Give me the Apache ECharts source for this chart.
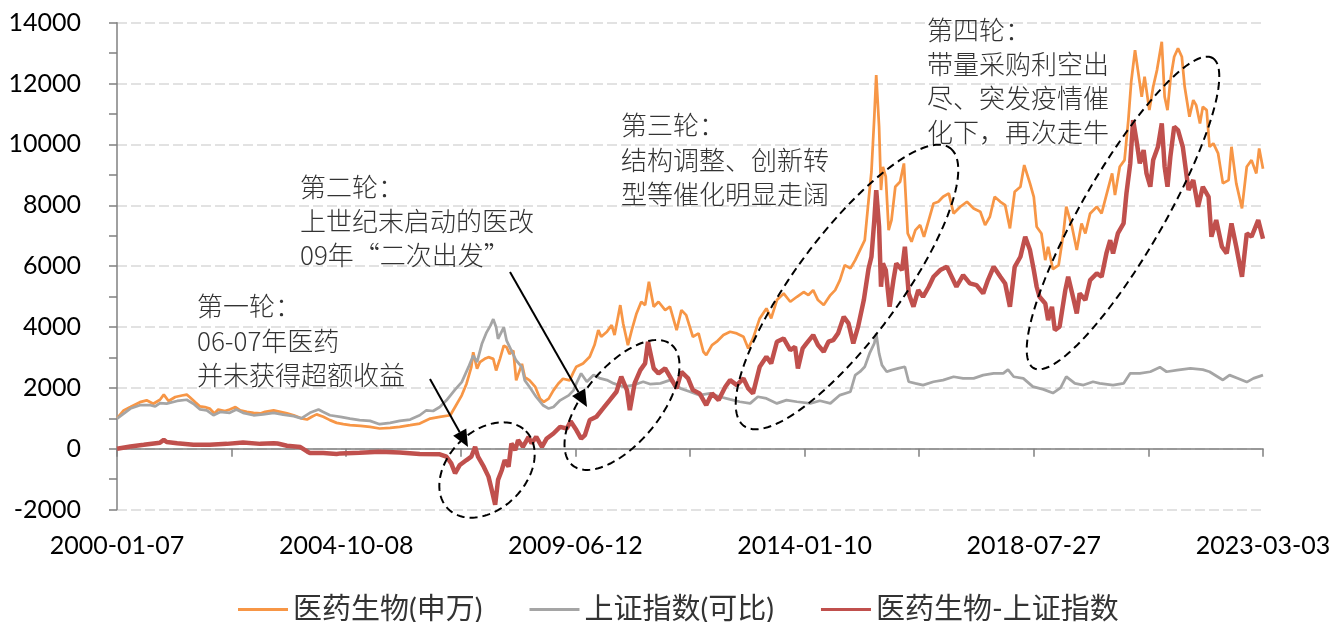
<!DOCTYPE html>
<html><head><meta charset="utf-8">
<script src="https://cdn.jsdelivr.net/npm/echarts@6/dist/echarts.min.js"></script>
<style>html,body{margin:0;padding:0;background:#fff}#c{width:1343px;height:622px}</style>
</head><body><div id="c"></div>
<script>
// x tick labels (every 240 trading weeks)
const xTickLabels = ['2000-01-07','2004-10-08','2009-06-12','2014-01-10','2018-07-27','2023-03-03'];
const seriesNames = ['医药生物(申万)','上证指数(可比)','医药生物-上证指数'];
// data: [trading-week index, value]
const pharma = [[0,1000],[7,1260],[14,1370],[24,1530],[31,1590],[38,1480],[45,1610],[49,1780],[54,1570],[61,1700],[68,1750],[73,1780],[76,1700],[82,1530],[87,1390],[92,1370],[97,1320],[102,1160],[106,1290],[113,1240],[118,1290],[124,1370],[129,1260],[136,1210],[143,1180],[150,1160],[155,1210],[164,1260],[171,1210],[178,1160],[185,1100],[193,1000],[199,960],[204,1050],[209,1130],[216,1050],[223,940],[230,850],[237,810],
[244,774],[255,752],[265,720],[275,665],[286,687],[296,720],[307,774],[317,828],[328,992],[338,1046],[349,1100],[354,1373],[361,1755],[366,2136],[371,2680],[373,3170],[377,2627],[380,2845],[385,2954],[389,3010],[394,2954],[397,2572],[401,2954],[405,3390],[408,3335],[411,3117],[415,3225],[418,2245],[424,2790],[427,2354],[432,2245],[438,2030],[443,1645],[447,1537],[452,1645],[457,1918],[462,2136],[467,2300],[474,2245],[478,2518],
[481,2695],[488,2804],[495,3023],[500,3406],[504,3899],[507,3680],[513,3844],[518,4063],[521,3735],[527,4720],[530,4118],[535,3406],[539,3899],[544,4447],[549,4830],[553,4720],[557,5487],[562,4666],[567,4830],[574,4556],[579,4666],[586,3899],[591,4556],[596,4392],[603,3680],[609,3790],[614,3187],[617,3078],[623,3406],[628,3516],[635,3735],[642,3844],[649,3790],[656,3680],[661,3297],[666,3625],[673,4282],[680,4611],[685,4282],[691,4885],[698,5104],[705,4830],[712,4994],
[719,5150],[724,5050],[729,5213],[734,4885],[740,4721],[747,5049],[752,5213],[757,5542],[762,6035],[768,5925],[773,6199],[778,6528],[783,6857],[787,8171],[790,9102],[793,10909],[795,12278],[798,10580],[800,8500],[802,9266],[805,8938],[808,7185],[811,7514],[815,8609],[820,8773],[824,9376],[828,7075],[832,6802],[836,7185],[841,7350],[845,6966],[850,7514],[855,8061],[860,8116],[865,8280],[871,8390],[876,7733],[883,7952],[890,8116],[897,7897],[904,7788],[909,7350],[914,7623],[919,8280],[925,8116],[930,8006],[935,7240],[940,8445],[946,8609],[950,9321],[956,8719],[960,8280],[963,7295],[968,7075],[972,6199],[975,6637],[980,5900],[986,6035],[991,7075],[994,7952],[1000,7295],[1005,6528],[1010,7404],[1014,7075],[1019,7733],[1026,7952],[1031,7733],[1036,8335],[1042,9047],[1045,8335],[1050,9266],[1055,9485],[1059,10799],[1062,12059],[1066,13100],[1069,12443],[1073,11566],[1076,12224],[1081,11128],[1085,11895],[1089,12443],[1094,13374],[1097,11566],[1100,11128],[1103,12114],[1107,12881],[1111,13155],[1115,12881],[1118,11895],[1123,10909],[1127,11457],[1130,11293],[1134,10690],[1137,11238],[1141,11128],[1144,9923],[1148,10033],[1153,9704],[1158,8719],[1164,8828],[1167,9923],[1172,8719],[1178,7897],[1183,9266],[1188,9485],[1193,9047],[1196,9868],[1200,9200]];
const shIndex = [[0,990],[14,1320],[24,1430],[35,1430],[40,1390],[45,1500],[52,1480],[63,1570],[73,1610],[80,1480],[87,1290],[94,1260],[101,1100],[108,1210],[118,1180],[125,1290],[132,1180],[143,1100],[153,1130],[164,1180],[174,1120],[185,1070],[193,1000],[202,1180],[211,1290],[216,1210],[223,1100],[234,1050],
[244,990],[254,940],[265,915],[275,807],[286,850],[296,915],[307,960],[317,1100],[324,1264],[331,1240],[338,1373],[345,1590],[354,1940],[361,2190],[368,2680],[373,3060],[377,2845],[382,3440],[387,3825],[391,4045],[394,4260],[397,3990],[399,3610],[405,3990],[408,3550],[413,3225],[418,2900],[424,2680],[427,2245],[432,2030],[439,1700],[446,1430],[452,1320],[457,1373],[464,1590],[473,1755],[478,1918],
[481,2147],[486,2475],[492,2202],[499,2420],[506,2311],[513,2256],[520,2147],[530,2037],[541,2092],[551,2202],[558,2125],[569,2147],[579,2256],[590,1982],[600,1873],[610,1763],[621,1818],[631,1709],[642,1621],[652,1544],[663,1490],[671,1709],[680,1654],[691,1490],[701,1599],[712,1544],
[726,1490],[736,1577],[747,1490],[757,1763],[768,1873],[773,2420],[778,2530],[783,2694],[788,3132],[793,3461],[795,3790],[798,3132],[801,2749],[806,2530],[811,2584],[818,2639],[825,2694],[829,2201],[836,2147],[844,2092],[855,2201],[865,2256],[876,2366],[886,2311],[897,2311],[907,2420],[918,2475],[928,2475],[933,2600],[939,2366],[949,2311],[959,2040],[970,1950],[980,1830],[988,2000],[994,2370],[1003,2147],[1012,2092],[1022,2201],[1029,2150],[1043,2092],[1054,2147],[1061,2480],[1071,2475],[1082,2530],[1092,2680],[1099,2530],[1110,2584],[1124,2639],[1137,2600],[1144,2530],[1158,2260],[1165,2420],[1174,2311],[1183,2190],[1190,2311],[1200,2420]];
const excess = [[0,0],[14,75],[28,130],[45,200],[49,290],[52,220],[63,180],[80,130],[97,130],[115,160],[132,205],[150,160],[164,180],[165,240],[168,170],[178,100],[192,55],[199,-90],[202,-140],[216,-140],[230,-170],
[234,-153],[254,-131],[275,-98],[296,-120],[317,-175],[338,-185],[345,-262],[350,-480],[354,-807],[359,-534],[366,-371],[371,-262],[375,65],[378,-262],[384,-589],[389,-916],[392,-1297],[396,-1842],[399,-1025],[403,-698],[406,-371],[410,-589],[413,174],[417,-44],[420,283],[425,65],[431,392],[434,174],[439,392],[445,65],[450,338],[457,501],[464,719],[471,665],[475,900],[481,613],[486,330],[490,450],[495,942],[502,1052],[509,1325],[516,1599],[523,1873],[528,2366],[534,1928],[537,1271],[542,2147],[548,2585],[553,2804],[556,3516],[562,2640],[567,2475],[574,2640],[579,2366],[586,1982],[591,2530],[598,2311],[603,1928],[610,1818],[617,1435],[623,1818],[630,1599],[637,2037],[642,2256],[649,2092],[656,2311],[661,1982],[666,1818],[673,2695],[680,3023],[685,2804],[691,3516],[698,3625],[705,3242],[710,3351],[713,2640],
[718,3300],[722,3461],[729,3735],[734,3406],[740,3187],[745,3516],[750,3570],[755,3790],[761,4337],[766,4118],[771,3461],[776,4009],[782,4885],[787,5925],[790,6309],[793,7514],[795,8500],[798,7295],[800,5323],[802,6090],[805,5870],[809,4666],[813,5542],[816,6090],[822,5870],[825,6637],[829,5104],[834,4666],[839,5213],[844,4994],[850,5323],[855,5652],[862,5870],[869,5980],[874,5652],[879,5323],[886,5706],[893,5432],[900,5378],[907,5104],[912,5542],[918,5980],[925,5652],[930,5432],[935,4666],[940,5980],[946,6309],[951,6966],[956,6528],[960,5870],[963,5323],[966,4994],[972,4775],[975,4228],[979,4666],[982,3899],[987,4009],[993,5213],[996,5652],[1001,4994],[1005,4447],[1008,5104],[1014,4885],[1019,5542],[1026,5761],[1031,5652],[1036,6418],[1040,6856],[1043,6418],[1048,7076],[1054,7404],[1057,8390],[1061,9376],[1064,10799],[1068,10033],[1071,9376],[1075,9814],[1078,9047],[1082,8609],[1085,9485],[1090,9923],[1094,10690],[1097,9266],[1100,8609],[1103,9595],[1107,10580],[1111,10471],[1116,9923],[1122,8500],[1127,8828],[1132,7952],[1137,8609],[1143,8280],[1146,6966],[1151,7514],[1157,6637],[1162,6418],[1167,7404],[1172,6637],[1178,5652],[1183,7076],[1188,6966],[1195,7514],[1200,6900]];

const annotations = [
  {x:197, y:289, lh:34.5, text:'第一轮：\n06-07年医药\n并未获得超额收益'},
  {x:300, y:170, lh:34, text:'第二轮：\n上世纪末启动的医改\n09年“二次出发”'},
  {x:621, y:108, lh:34.5, text:'第三轮：\n结构调整、创新转\n型等催化明显走阔'},
  {x:927, y:13, lh:34, text:'第四轮：\n带量采购利空出\n尽、突发疫情催\n化下，再次走牛'}
];
const ellipses = [
  {cx:487, cy:470, a:55, b:39, deg:45},
  {cx:622, cy:405, a:78, b:38, deg:50.7},
  {cx:847, cy:287, a:173, b:52, deg:53.4},
  {cx:1123, cy:213, a:179, b:41, deg:60}
];
const arrows = [
  {x1:430, y1:379, x2:468, y2:447},
  {x1:510, y1:272, x2:587, y2:407}
];

const CJK = '"Noto Sans CJK SC"';
const graphics = [];
annotations.forEach(a => graphics.push({
  type:'text', x:a.x, y:a.y, z:100,
  style:{text:a.text, fontSize:26, fontFamily:CJK, fontWeight:300, fill:'#333', lineHeight:a.lh, verticalAlign:'top', align:'left'}
}));
ellipses.forEach(e => {
  const pts = [];
  const r = e.deg*Math.PI/180;
  for (let k=0;k<144;k++){
    const t = k/144*2*Math.PI;
    const ex = e.a*Math.cos(t), ey = e.b*Math.sin(t);
    pts.push([e.cx + ex*Math.cos(r) + ey*Math.sin(r), e.cy - ex*Math.sin(r) + ey*Math.cos(r)]);
  }
  graphics.push({type:'polygon', z:100, shape:{points:pts}, style:{fill:'none', stroke:'#000', lineWidth:2, lineDash:[8,5]}});
});
arrows.forEach(a => {
  const dx=a.x2-a.x1, dy=a.y2-a.y1, L=Math.hypot(dx,dy), ux=dx/L, uy=dy/L;
  const hl=17, hw=7.5;
  const bx=a.x2-ux*hl, by=a.y2-uy*hl;
  graphics.push({type:'line', z:100, shape:{x1:a.x1,y1:a.y1,x2:bx,y2:by}, style:{stroke:'#000', lineWidth:2}});
  graphics.push({type:'polygon', z:100, shape:{points:[[a.x2,a.y2],[bx-uy*hw,by+ux*hw],[bx+uy*hw,by-ux*hw]]}, style:{fill:'#000'}});
});

const chart = echarts.init(document.getElementById('c'));
chart.setOption({
  animation:false,
  backgroundColor:'#fff',
  grid:{left:117, right:80, top:22.7, bottom:112.4},
  legend:{
    data:seriesNames, left:233, top:590, icon:'rect', itemWidth:50, itemHeight:3, itemGap:47,
    textStyle:{fontSize:29, fontFamily:'Lato, '+CJK, color:'#333'}
  },
  xAxis:{
    type:'value', min:0, max:1200, interval:120,
    axisLine:{show:true, onZero:true, lineStyle:{color:'#808080', width:1.5}},
    axisTick:{show:true, length:8, lineStyle:{color:'#808080', width:1.5}},
    splitLine:{show:false},
    axisLabel:{margin:24, fontSize:25, fontFamily:'Lato', color:'#000',
      formatter:v => (v % 240 === 0 ? xTickLabels[v/240] : '')}
  },
  yAxis:{
    type:'value', min:-2000, max:14000, interval:2000,
    axisLine:{show:true, lineStyle:{color:'#808080', width:1.5}},
    axisTick:{show:true, length:8, lineStyle:{color:'#808080', width:1.5}},
    minorTick:{show:true, splitNumber:2, length:8, lineStyle:{color:'#808080', width:1.5}},
    splitLine:{show:true, lineStyle:{color:'#d9d9d9', width:1.5, type:[10,4]}},
    axisLabel:{margin:36, fontSize:25, fontFamily:'Lato', color:'#000', formatter:v => String(v)}
  },
  series:[
    {name:seriesNames[0], type:'line', data:pharma, showSymbol:false, symbol:'none', color:'#F79646', lineStyle:{width:2.75}, z:2},
    {name:seriesNames[1], type:'line', data:shIndex, showSymbol:false, symbol:'none', color:'#A5A5A5', lineStyle:{width:2.75}, z:3},
    {name:seriesNames[2], type:'line', data:excess, showSymbol:false, symbol:'none', color:'#C0504D', lineStyle:{width:4.5}, z:4}
  ],
  graphic:graphics
});
</script></body></html>
